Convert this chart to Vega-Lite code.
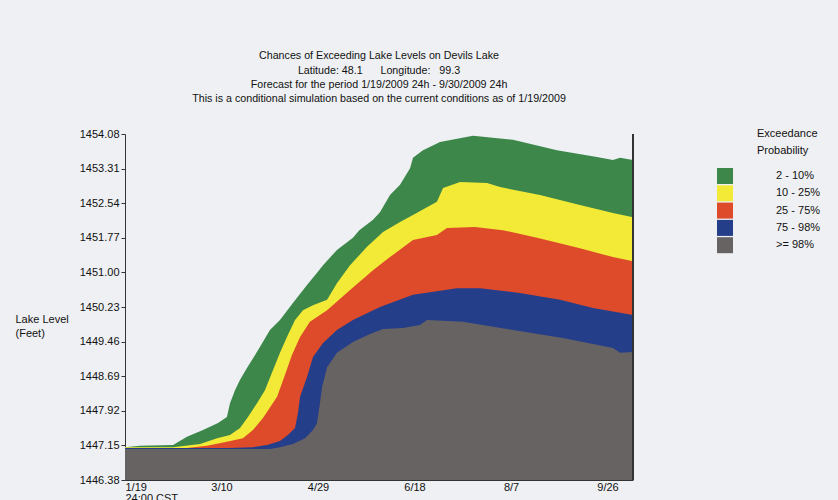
{
  "$schema": "https://vega.github.io/schema/vega-lite/v6.json",
  "width": 508,
  "height": 346,
  "autosize": {"type": "none"},
  "padding": {"left": 125, "top": 134, "right": 205, "bottom": 20},
  "background": "#eef0f3",
  "config": {
    "view": {"stroke": null},
    "font": "Liberation Sans",
    "axis": {"labelFont": "Liberation Sans", "titleFont": "Liberation Sans"}
  },
  "title": {
    "text": [
      "Chances of Exceeding Lake Levels on Devils Lake",
      "Latitude: 48.1\u00a0\u00a0\u00a0\u00a0\u00a0\u00a0Longitude:\u00a0\u00a0\u00a099.3",
      "Forecast for the period 1/19/2009 24h - 9/30/2009 24h",
      "This is a conditional simulation based on the current conditions as of 1/19/2009"
    ],
    "fontSize": 10.7,
    "fontWeight": "normal",
    "lineHeight": 14.3,
    "offset": 23,
    "anchor": "middle",
    "color": "#111111"
  },
  "data": {
    "values": [
      {"band": "2 - 10%", "day": 0, "level": 1447.11},
      {"band": "2 - 10%", "day": 7.8, "level": 1447.14},
      {"band": "2 - 10%", "day": 24.9, "level": 1447.16},
      {"band": "2 - 10%", "day": 32.1, "level": 1447.34},
      {"band": "2 - 10%", "day": 40.4, "level": 1447.49},
      {"band": "2 - 10%", "day": 48.2, "level": 1447.65},
      {"band": "2 - 10%", "day": 52.8, "level": 1447.78},
      {"band": "2 - 10%", "day": 54.4, "level": 1448.09},
      {"band": "2 - 10%", "day": 57.0, "level": 1448.38},
      {"band": "2 - 10%", "day": 59.6, "level": 1448.61},
      {"band": "2 - 10%", "day": 63.2, "level": 1448.87},
      {"band": "2 - 10%", "day": 69.9, "level": 1449.34},
      {"band": "2 - 10%", "day": 75.1, "level": 1449.72},
      {"band": "2 - 10%", "day": 80.3, "level": 1449.94},
      {"band": "2 - 10%", "day": 87.0, "level": 1450.32},
      {"band": "2 - 10%", "day": 94.3, "level": 1450.72},
      {"band": "2 - 10%", "day": 99.5, "level": 1450.99},
      {"band": "2 - 10%", "day": 102.6, "level": 1451.16},
      {"band": "2 - 10%", "day": 109.8, "level": 1451.50},
      {"band": "2 - 10%", "day": 118.1, "level": 1451.77},
      {"band": "2 - 10%", "day": 121.4, "level": 1451.94},
      {"band": "2 - 10%", "day": 128.5, "level": 1452.17},
      {"band": "2 - 10%", "day": 132.1, "level": 1452.34},
      {"band": "2 - 10%", "day": 137.3, "level": 1452.72},
      {"band": "2 - 10%", "day": 142.5, "level": 1452.95},
      {"band": "2 - 10%", "day": 147.7, "level": 1453.32},
      {"band": "2 - 10%", "day": 149.2, "level": 1453.55},
      {"band": "2 - 10%", "day": 154.4, "level": 1453.72},
      {"band": "2 - 10%", "day": 163.2, "level": 1453.90},
      {"band": "2 - 10%", "day": 180.3, "level": 1454.04},
      {"band": "2 - 10%", "day": 201.0, "level": 1453.95},
      {"band": "2 - 10%", "day": 223.8, "level": 1453.72},
      {"band": "2 - 10%", "day": 244.5, "level": 1453.57},
      {"band": "2 - 10%", "day": 252.8, "level": 1453.50},
      {"band": "2 - 10%", "day": 256.5, "level": 1453.55},
      {"band": "2 - 10%", "day": 263.2, "level": 1453.50},

      {"band": "10 - 25%", "day": 0, "level": 1447.11},
      {"band": "10 - 25%", "day": 24.9, "level": 1447.11},
      {"band": "10 - 25%", "day": 38.9, "level": 1447.18},
      {"band": "10 - 25%", "day": 47.7, "level": 1447.31},
      {"band": "10 - 25%", "day": 54.4, "level": 1447.38},
      {"band": "10 - 25%", "day": 59.6, "level": 1447.54},
      {"band": "10 - 25%", "day": 63.7, "level": 1447.78},
      {"band": "10 - 25%", "day": 68.4, "level": 1448.09},
      {"band": "10 - 25%", "day": 72.5, "level": 1448.38},
      {"band": "10 - 25%", "day": 76.7, "level": 1448.83},
      {"band": "10 - 25%", "day": 80.3, "level": 1449.21},
      {"band": "10 - 25%", "day": 83.9, "level": 1449.56},
      {"band": "10 - 25%", "day": 88.1, "level": 1449.94},
      {"band": "10 - 25%", "day": 92.2, "level": 1450.16},
      {"band": "10 - 25%", "day": 97.4, "level": 1450.27},
      {"band": "10 - 25%", "day": 104.7, "level": 1450.39},
      {"band": "10 - 25%", "day": 109.8, "level": 1450.76},
      {"band": "10 - 25%", "day": 116.6, "level": 1451.16},
      {"band": "10 - 25%", "day": 125.4, "level": 1451.57},
      {"band": "10 - 25%", "day": 133.7, "level": 1451.90},
      {"band": "10 - 25%", "day": 142.5, "level": 1452.12},
      {"band": "10 - 25%", "day": 149.2, "level": 1452.28},
      {"band": "10 - 25%", "day": 161.6, "level": 1452.57},
      {"band": "10 - 25%", "day": 164.8, "level": 1452.88},
      {"band": "10 - 25%", "day": 173.6, "level": 1453.01},
      {"band": "10 - 25%", "day": 187.6, "level": 1452.99},
      {"band": "10 - 25%", "day": 194.3, "level": 1452.90},
      {"band": "10 - 25%", "day": 215.0, "level": 1452.72},
      {"band": "10 - 25%", "day": 235.7, "level": 1452.50},
      {"band": "10 - 25%", "day": 252.8, "level": 1452.32},
      {"band": "10 - 25%", "day": 263.2, "level": 1452.23},

      {"band": "25 - 75%", "day": 0, "level": 1447.09},
      {"band": "25 - 75%", "day": 32.1, "level": 1447.09},
      {"band": "25 - 75%", "day": 42.5, "level": 1447.14},
      {"band": "25 - 75%", "day": 52.8, "level": 1447.23},
      {"band": "25 - 75%", "day": 61.1, "level": 1447.31},
      {"band": "25 - 75%", "day": 66.3, "level": 1447.49},
      {"band": "25 - 75%", "day": 71.5, "level": 1447.76},
      {"band": "25 - 75%", "day": 78.8, "level": 1448.23},
      {"band": "25 - 75%", "day": 82.9, "level": 1448.72},
      {"band": "25 - 75%", "day": 86.5, "level": 1449.16},
      {"band": "25 - 75%", "day": 90.7, "level": 1449.56},
      {"band": "25 - 75%", "day": 95.8, "level": 1449.90},
      {"band": "25 - 75%", "day": 104.7, "level": 1450.16},
      {"band": "25 - 75%", "day": 116.6, "level": 1450.61},
      {"band": "25 - 75%", "day": 128.5, "level": 1451.05},
      {"band": "25 - 75%", "day": 137.3, "level": 1451.34},
      {"band": "25 - 75%", "day": 149.2, "level": 1451.72},
      {"band": "25 - 75%", "day": 161.6, "level": 1451.83},
      {"band": "25 - 75%", "day": 166.8, "level": 1451.99},
      {"band": "25 - 75%", "day": 181.3, "level": 1452.01},
      {"band": "25 - 75%", "day": 195.8, "level": 1451.94},
      {"band": "25 - 75%", "day": 213.5, "level": 1451.77},
      {"band": "25 - 75%", "day": 235.7, "level": 1451.54},
      {"band": "25 - 75%", "day": 252.8, "level": 1451.34},
      {"band": "25 - 75%", "day": 263.2, "level": 1451.25},

      {"band": "75 - 98%", "day": 0, "level": 1447.09},
      {"band": "75 - 98%", "day": 54.4, "level": 1447.09},
      {"band": "75 - 98%", "day": 66.3, "level": 1447.11},
      {"band": "75 - 98%", "day": 73.6, "level": 1447.16},
      {"band": "75 - 98%", "day": 80.3, "level": 1447.25},
      {"band": "75 - 98%", "day": 84.4, "level": 1447.38},
      {"band": "75 - 98%", "day": 88.1, "level": 1447.54},
      {"band": "75 - 98%", "day": 89.6, "level": 1447.87},
      {"band": "75 - 98%", "day": 90.7, "level": 1448.23},
      {"band": "75 - 98%", "day": 94.3, "level": 1448.67},
      {"band": "75 - 98%", "day": 97.4, "level": 1449.12},
      {"band": "75 - 98%", "day": 102.6, "level": 1449.43},
      {"band": "75 - 98%", "day": 109.8, "level": 1449.72},
      {"band": "75 - 98%", "day": 118.1, "level": 1449.94},
      {"band": "75 - 98%", "day": 132.1, "level": 1450.23},
      {"band": "75 - 98%", "day": 149.2, "level": 1450.50},
      {"band": "75 - 98%", "day": 172.0, "level": 1450.65},
      {"band": "75 - 98%", "day": 183.9, "level": 1450.65},
      {"band": "75 - 98%", "day": 204.6, "level": 1450.54},
      {"band": "75 - 98%", "day": 225.4, "level": 1450.39},
      {"band": "75 - 98%", "day": 242.5, "level": 1450.21},
      {"band": "75 - 98%", "day": 263.2, "level": 1450.05},

      {"band": ">= 98%", "day": 0, "level": 1447.07},
      {"band": ">= 98%", "day": 75.1, "level": 1447.07},
      {"band": ">= 98%", "day": 80.3, "level": 1447.11},
      {"band": ">= 98%", "day": 87.0, "level": 1447.18},
      {"band": ">= 98%", "day": 93.3, "level": 1447.31},
      {"band": ">= 98%", "day": 97.4, "level": 1447.49},
      {"band": ">= 98%", "day": 99.5, "level": 1447.65},
      {"band": ">= 98%", "day": 101.0, "level": 1448.09},
      {"band": ">= 98%", "day": 102.1, "level": 1448.45},
      {"band": ">= 98%", "day": 104.7, "level": 1448.89},
      {"band": ">= 98%", "day": 109.8, "level": 1449.21},
      {"band": ">= 98%", "day": 118.1, "level": 1449.45},
      {"band": ">= 98%", "day": 126.9, "level": 1449.63},
      {"band": ">= 98%", "day": 133.7, "level": 1449.74},
      {"band": ">= 98%", "day": 144.0, "level": 1449.76},
      {"band": ">= 98%", "day": 152.8, "level": 1449.83},
      {"band": ">= 98%", "day": 156.5, "level": 1449.94},
      {"band": ">= 98%", "day": 175.1, "level": 1449.90},
      {"band": ">= 98%", "day": 201.0, "level": 1449.72},
      {"band": ">= 98%", "day": 226.9, "level": 1449.54},
      {"band": ">= 98%", "day": 252.8, "level": 1449.32},
      {"band": ">= 98%", "day": 256.5, "level": 1449.21},
      {"band": ">= 98%", "day": 263.2, "level": 1449.23}
    ]
  },
  "layer": [
    {
      "encoding": {
        "x": {
          "field": "day",
          "type": "quantitative",
          "scale": {"domain": [0, 263.2], "nice": false, "zero": false},
          "axis": {
            "values": [0, 50, 100, 150, 200, 250],
            "labelExpr": "datum.value == 0 ? ['1/19', '24:00 CST'] : datum.value == 50 ? '3/10' : datum.value == 100 ? '4/29' : datum.value == 150 ? '6/18' : datum.value == 200 ? '8/7' : '9/26'",
            "title": null,
            "grid": false,
            "tickSize": -3,
            "labelFlush": true,
            "labelPadding": 4,
            "labelFontSize": 11,
            "labelLineHeight": 11,
            "labelColor": "#111111",
            "domainColor": "#333333",
            "tickColor": "#333333"
          }
        },
        "y": {
          "field": "level",
          "type": "quantitative",
          "scale": {"domain": [1446.38, 1454.08], "nice": false, "zero": false},
          "axis": {
            "values": [1446.38, 1447.15, 1447.92, 1448.69, 1449.46, 1450.23, 1451.0, 1451.77, 1452.54, 1453.31, 1454.08],
            "format": ".2f",
            "grid": false,
            "tickSize": 4,
            "labelPadding": 2,
            "labelFontSize": 11,
            "labelColor": "#111111",
            "domainColor": "#333333",
            "tickColor": "#333333",
            "title": ["Lake Level", "(Feet)"],
            "titleAngle": 0,
            "titleAlign": "left",
            "titleBaseline": "top",
            "titleX": -110,
            "titleY": 179,
            "titleFontSize": 11,
            "titleFontWeight": "normal",
            "titleLineHeight": 14,
            "titleColor": "#111111"
          }
        },
        "y2": {"datum": 1446.38},
        "color": {
          "field": "band",
          "type": "nominal",
          "scale": {
            "domain": ["2 - 10%", "10 - 25%", "25 - 75%", "75 - 98%", ">= 98%"],
            "range": ["#3d874b", "#f2ea36", "#dd4b2b", "#243e8a", "#686363"]
          },
          "legend": {
            "orient": "none",
            "legendX": 592,
            "legendY": -6,
            "title": ["\u2800\u2800\u2800\u2800\u2800Exceedance", "\u2800\u2800\u2800\u2800\u2800Probability"],
            "titleFontSize": 11,
            "titleFontWeight": "normal",
            "titleAnchor": "start",
            "titleAlign": "left",
            "titleLineHeight": 17,
            "titlePadding": 12,
            "titleColor": "#111111",
            "symbolType": "square",
            "symbolSize": 256,
            "symbolStrokeWidth": 0,
            "symbolOpacity": 1,
            "labelFontSize": 11,
            "labelOffset": 43,
            "labelColor": "#111111",
            "rowPadding": 1.3
          }
        }
      },
      "layer": [
        {"transform": [{"filter": "datum.band == '2 - 10%'"}], "mark": {"type": "area", "opacity": 1}},
        {"transform": [{"filter": "datum.band == '10 - 25%'"}], "mark": {"type": "area", "opacity": 1}},
        {"transform": [{"filter": "datum.band == '25 - 75%'"}], "mark": {"type": "area", "opacity": 1}},
        {"transform": [{"filter": "datum.band == '75 - 98%'"}], "mark": {"type": "area", "opacity": 1}},
        {"transform": [{"filter": "datum.band == '>= 98%'"}], "mark": {"type": "area", "opacity": 1}}
      ]
    },
    {
      "mark": {"type": "rule", "color": "#333333", "strokeWidth": 1},
      "encoding": {"x": {"datum": 263.2}}
    }
  ]
}
